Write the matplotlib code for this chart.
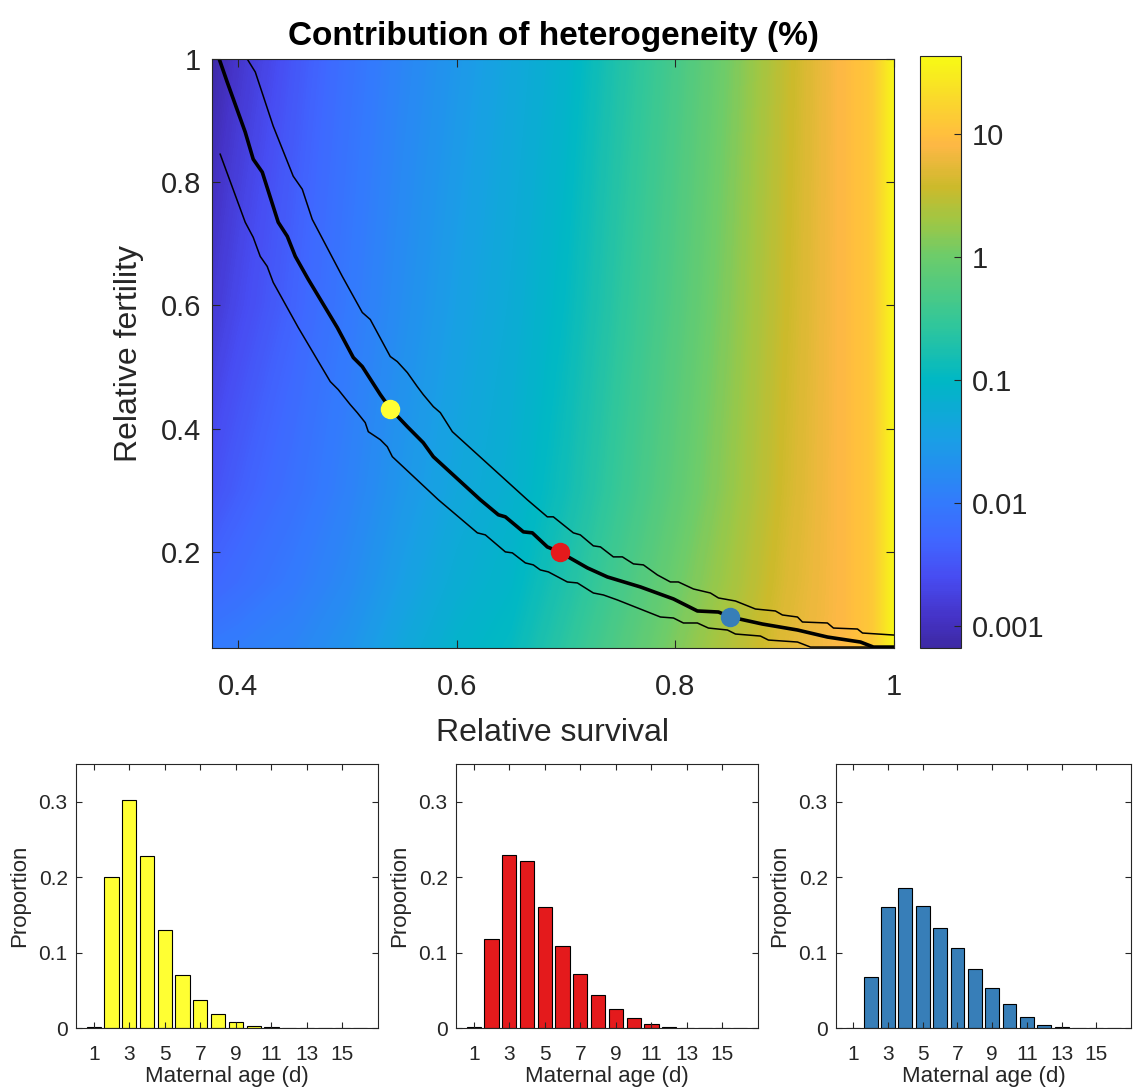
import numpy as np
import matplotlib
matplotlib.use('Agg')
import matplotlib.pyplot as plt
from matplotlib.colors import LinearSegmentedColormap

plt.rcParams['font.family'] = ['Liberation Sans', 'DejaVu Sans']

# heatmap: log10 of contribution (%)
surv = [0.376, 0.40, 0.45, 0.50, 0.55, 0.60, 0.65, 0.70, 0.75, 0.80, 0.85, 0.90, 0.95, 0.98, 1.00]
fert = [0.044, 0.15, 0.30, 0.60, 1.00]
logc_044 = [-2.00, -1.95, -1.85, -1.65, -1.35, -1.10, -0.95, -0.60, -0.25, 0.10, 0.40, 0.70, 0.90, 1.10, 1.60]
logc_015 = [-2.30, -2.20, -2.00, -1.78, -1.48, -1.22, -1.05, -0.72, -0.36, -0.01, 0.31, 0.65, 0.90, 1.10, 1.60]
logc_030 = [-2.55, -2.40, -2.15, -1.90, -1.60, -1.35, -1.15, -0.85, -0.48, -0.13, 0.22, 0.60, 0.90, 1.10, 1.60]
logc_060 = [-2.85, -2.65, -2.35, -2.03, -1.73, -1.47, -1.25, -0.97, -0.59, -0.24, 0.14, 0.55, 0.90, 1.10, 1.60]
logc_100 = [-3.15, -2.90, -2.50, -2.15, -1.85, -1.60, -1.35, -1.10, -0.70, -0.35, 0.05, 0.50, 0.90, 1.10, 1.60]

# contour lines (survival, fertility)
mid_x = [0.3826, 0.3899, 0.4064, 0.4137, 0.4220, 0.4366, 0.4449, 0.4522, 0.4641, 0.4906, 0.5053, 0.5135,
         0.5300, 0.5391, 0.5547, 0.5693, 0.5785, 0.6215, 0.6380, 0.6444, 0.6609, 0.6691, 0.6828, 0.6938,
         0.7195, 0.7378, 0.7680, 0.7982, 0.8201, 0.8394, 0.8503, 0.8796, 0.9117, 0.9391, 0.9693, 0.9812, 1.0]
mid_y = [1.0, 0.9626, 0.8813, 0.8374, 0.8163, 0.7350, 0.7122, 0.6797, 0.6423, 0.5642, 0.5154, 0.5008,
         0.4553, 0.4325, 0.4033, 0.3772, 0.3545, 0.2846, 0.2602, 0.2569, 0.2325, 0.2309, 0.2081, 0.2000,
         0.1740, 0.1593, 0.1431, 0.1236, 0.1041, 0.1024, 0.0943, 0.0829, 0.0732, 0.0618, 0.0537, 0.0455, 0.0455]
up_x = [0.3826, 0.4082, 0.4156, 0.4320, 0.4503, 0.4586, 0.4677, 0.4870, 0.4952, 0.5135, 0.5208, 0.5391,
        0.5455, 0.5547, 0.5638, 0.5693, 0.5785, 0.5849, 0.5959, 0.6645, 0.6828, 0.6883, 0.7066, 0.7130,
        0.7249, 0.7314, 0.7432, 0.7515, 0.7616, 0.7707, 0.7835, 0.7954, 0.8027, 0.8165, 0.8320, 0.8394,
        0.8549, 0.8686, 0.8732, 0.8915, 0.8979, 0.9117, 0.9162, 0.9391, 0.9446, 0.9666, 0.9712, 1.0]
up_y = [1.0, 1.0, 0.9789, 0.8911, 0.8098, 0.7886, 0.7398, 0.6748, 0.6472, 0.5886, 0.5772, 0.5171,
        0.5089, 0.4911, 0.4683, 0.4553, 0.4358, 0.4260, 0.3951, 0.2846, 0.2569, 0.2569, 0.2309, 0.2276,
        0.2098, 0.2081, 0.1919, 0.1919, 0.1805, 0.1789, 0.1626, 0.1512, 0.1512, 0.1398, 0.1333, 0.1252,
        0.1203, 0.1106, 0.1073, 0.1041, 0.0976, 0.0943, 0.0862, 0.0846, 0.0764, 0.0748, 0.0683, 0.0650]
low_x = [0.3835, 0.4064, 0.4137, 0.4201, 0.4265, 0.4320, 0.4549, 0.4842, 0.4915, 0.5025, 0.5089, 0.5162,
         0.5190, 0.5300, 0.5364, 0.5410, 0.5831, 0.6188, 0.6261, 0.6444, 0.6508, 0.6627, 0.6700, 0.6764,
         0.6838, 0.7011, 0.7103, 0.7249, 0.7341, 0.7469, 0.7863, 0.7982, 0.8073, 0.8201, 0.8302, 0.8476,
         0.8549, 0.8778, 0.8851, 0.9117, 0.9236, 1.0]
low_y = [0.8455, 0.7350, 0.7106, 0.6797, 0.6634, 0.6374, 0.5642, 0.4764, 0.4634, 0.4390, 0.4260, 0.4098,
         0.3951, 0.3821, 0.3707, 0.3545, 0.2846, 0.2309, 0.2276, 0.2000, 0.1984, 0.1821, 0.1789, 0.1707,
         0.1675, 0.1512, 0.1496, 0.1333, 0.1301, 0.1220, 0.0943, 0.0927, 0.0846, 0.0846, 0.0764, 0.0732,
         0.0667, 0.0634, 0.0569, 0.0537, 0.0455, 0.0455]

pt_x = [0.539, 0.694, 0.850]
pt_y = [0.4325, 0.200, 0.094]
pt_colors = ['#ffff33', '#e41a1c', '#377eb8']

# maternal age distributions
ages = np.arange(1, 17)
prop_yellow = [0.001, 0.200, 0.302, 0.228, 0.130, 0.070, 0.037, 0.018, 0.008, 0.003, 0.001, 0.0003, 0.0001, 0, 0, 0]
prop_red = [0.001, 0.118, 0.230, 0.221, 0.160, 0.109, 0.072, 0.044, 0.025, 0.013, 0.005, 0.001, 0.0003, 0, 0, 0]
prop_blue = [0.0005, 0.068, 0.160, 0.186, 0.162, 0.133, 0.106, 0.078, 0.053, 0.032, 0.015, 0.004, 0.0008, 0, 0, 0]

# parula-like colormap
parula = LinearSegmentedColormap.from_list('parula', [
    (0.00, (0.24, 0.16, 0.64)),
    (0.05, (0.27, 0.20, 0.78)),
    (0.12, (0.28, 0.30, 0.95)),
    (0.18, (0.25, 0.40, 1.00)),
    (0.245, (0.20, 0.48, 0.99)),
    (0.35, (0.10, 0.62, 0.90)),
    (0.453, (0.00, 0.72, 0.77)),
    (0.55, (0.20, 0.78, 0.60)),
    (0.661, (0.42, 0.80, 0.42)),
    (0.72, (0.62, 0.78, 0.27)),
    (0.78, (0.80, 0.73, 0.17)),
    (0.85, (0.99, 0.72, 0.27)),
    (0.87, (1.00, 0.75, 0.24)),
    (0.93, (0.98, 0.85, 0.17)),
    (1.00, (0.97, 0.98, 0.08)),
])

txt = (0.15, 0.15, 0.15)
W, H = 1133, 1091
fig = plt.figure(figsize=(W / 100, H / 100), dpi=100)

def box(l, t, r, b):
    return [l / W, 1 - b / H, (r - l) / W, (b - t) / H]

ax = fig.add_axes(box(212, 59, 894, 648))
Z = np.array([logc_044, logc_015, logc_030, logc_060, logc_100])
vmin, vmax = -3.18, 1.63
cf = ax.contourf(surv, fert, Z, levels=np.linspace(vmin, vmax, 300), cmap=parula, vmin=vmin, vmax=vmax)
ax.plot(up_x, up_y, color='k', lw=1.1)
ax.plot(low_x, low_y, color='k', lw=1.1)
ax.plot(mid_x, mid_y, color='k', lw=2.6)
for px, py, c in zip(pt_x, pt_y, pt_colors):
    ax.plot(px, py, 'o', ms=13, color=c, mec=c)
ax.set_xlim(0.376, 1.0)
ax.set_ylim(0.044, 1.0)
ax.set_xticks([0.4, 0.6, 0.8, 1.0])
ax.set_xticklabels(['0.4', '0.6', '0.8', '1'])
ax.set_yticks([0.2, 0.4, 0.6, 0.8, 1.0])
ax.set_yticklabels(['0.2', '0.4', '0.6', '0.8', '1'])
ax.tick_params(direction='in', top=True, right=True, labelsize=21, colors=txt, length=6, pad=8)
ax.tick_params(axis='x', pad=18)
for s in ax.spines.values():
    s.set_color(txt)
ax.set_xlabel('Relative survival', fontsize=23, color=txt, labelpad=12)
ax.set_ylabel('Relative fertility', fontsize=23, color=txt, labelpad=12)
ax.set_title('Contribution of heterogeneity (%)', fontsize=24, fontweight='bold', pad=10)

cax = fig.add_axes(box(920, 56, 961, 648))
cb = fig.colorbar(cf, cax=cax)
cb.set_ticks([-3, -2, -1, 0, 1])
cb.set_ticklabels(['0.001', '0.01', '0.1', '1', '10'])
cax.tick_params(direction='in', labelsize=21, colors=txt, length=5, pad=8)
cb.outline.set_edgecolor(txt)

bar_sets = [(prop_yellow, '#ffff33', 76, 378), (prop_red, '#e41a1c', 456, 758), (prop_blue, '#377eb8', 836, 1131)]
for vals, col, l, r in bar_sets:
    bx = fig.add_axes(box(l, 764, r, 1028))
    bx.bar(ages, vals, width=0.8, color=col, edgecolor='k', linewidth=0.8)
    bx.set_xlim(0, 17)
    bx.set_ylim(0, 0.35)
    bx.set_xticks([1, 3, 5, 7, 9, 11, 13, 15])
    bx.set_yticks([0, 0.1, 0.2, 0.3])
    bx.set_yticklabels(['0', '0.1', '0.2', '0.3'])
    bx.tick_params(direction='in', top=True, right=True, labelsize=15, colors=txt, length=4, pad=6)
    bx.tick_params(axis='x', pad=12)
    for s in bx.spines.values():
        s.set_color(txt)
    bx.set_xlabel('Maternal age (d)', fontsize=16, color=txt, labelpad=2)
    bx.set_ylabel('Proportion', fontsize=16, color=txt, labelpad=6)

fig.savefig('out.png', dpi=100)
